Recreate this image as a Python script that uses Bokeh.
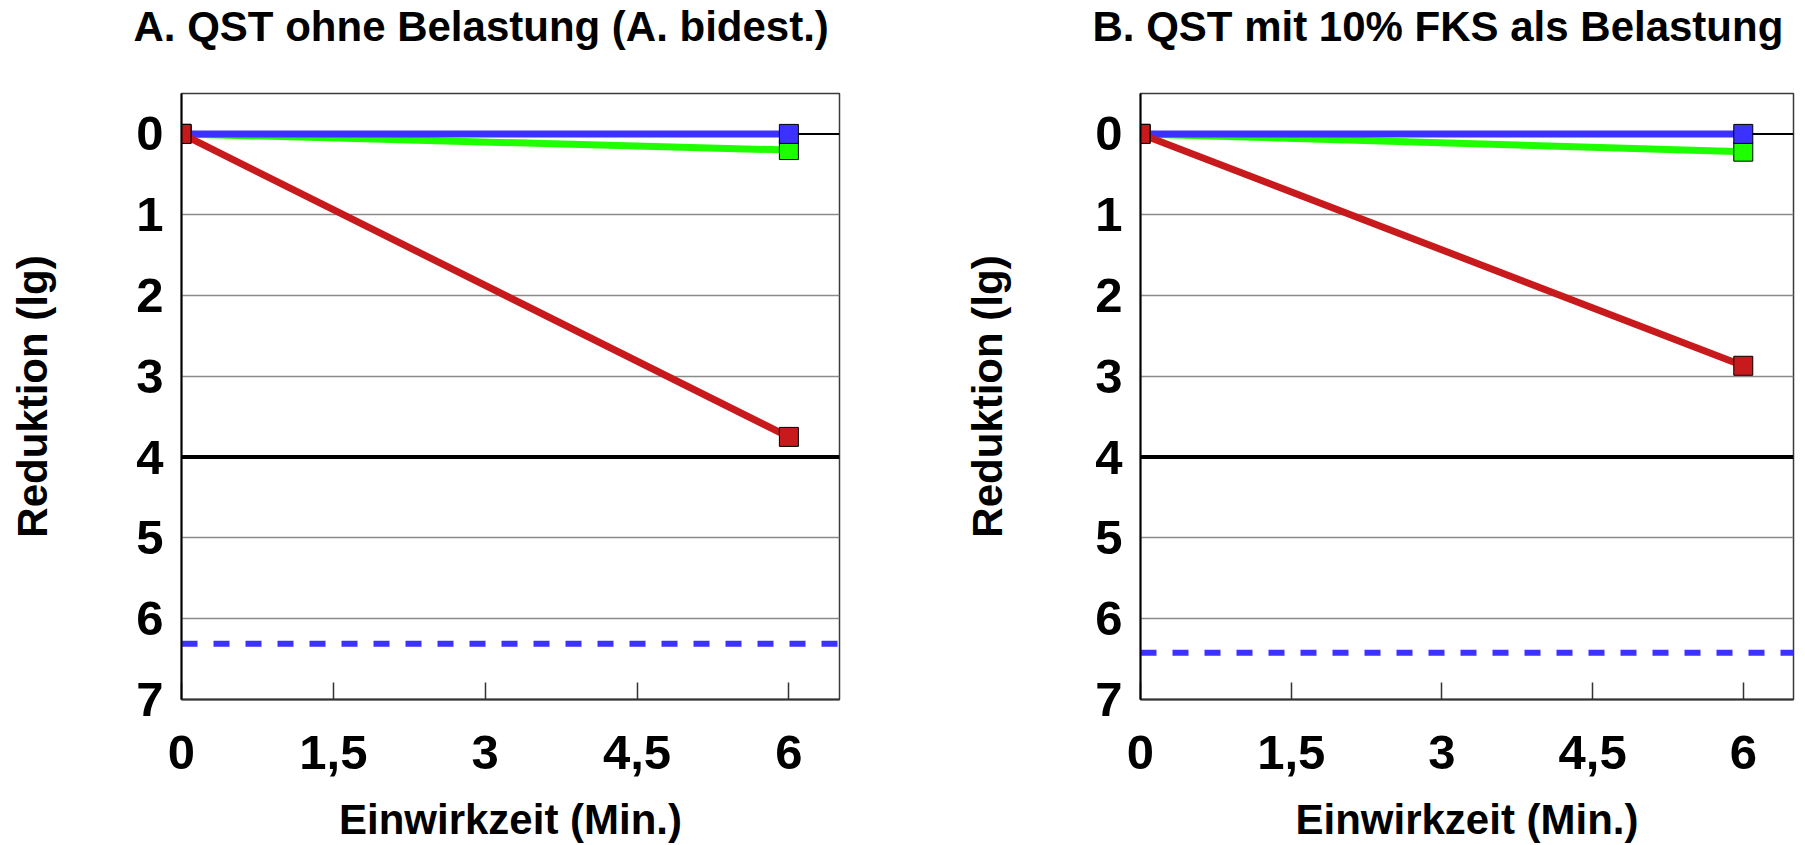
from bokeh.plotting import figure
from bokeh.models import Range1d, FixedTicker, Span, Title
from bokeh.layouts import row
from bokeh.embed import file_html
from bokeh.resources import INLINE

# ---------------- data ----------------
time_min = [0, 6]
titles = ["A. QST ohne Belastung (A. bidest.)", "B. QST mit 10% FKS als Belastung"]
blue_A = [0, 0]
green_A = [0, 0.2]
red_A = [0, 3.75]
blue_B = [0, 0]
green_B = [0, 0.22]
red_B = [0, 2.87]
limit_A = 6.31
limit_B = 6.42
threshold = 4
x_ticks = [0, 1.5, 3, 4.5, 6]
x_tick_labels = ["0", "1,5", "3", "4,5", "6"]
y_ticks = [0, 1, 2, 3, 4, 5, 6, 7]
y_tick_labels = ["0", "1", "2", "3", "4", "5", "6", "7"]
grid_ticks = [1, 2, 3, 5, 6]
x_label = "Einwirkzeit (Min.)"
y_label = "Reduktion (lg)"

BLUE = "#3c32ff"
GREEN = "#1eff00"
RED = "#c8191d"
FONT = "Liberation Sans"

H = 845
FRAME_TOP, FRAME_BOTTOM = 93, 700          # page pixels


def make_panel(title, blue, green, red, limit, width, ml, mr, label_standoff, title_dx):
    p = figure(width=width, height=H, x_range=Range1d(0, 6.5), y_range=Range1d(7, -0.5),
               output_backend="svg", toolbar_location=None,
               min_border_left=ml, min_border_right=mr,
               min_border_top=FRAME_TOP, min_border_bottom=H - FRAME_BOTTOM)
    p.background_fill_color = "white"
    p.border_fill_color = "white"
    p.outline_line_color = "#3a3a3a"
    p.outline_line_width = 1.5

    p.xgrid.visible = False
    p.ygrid.ticker = FixedTicker(ticks=grid_ticks)
    p.ygrid.grid_line_color = "#8a8a8a"
    p.ygrid.grid_line_width = 1.5

    # axes
    xa = p.xaxis[0]
    xa.ticker = FixedTicker(ticks=x_ticks)
    xa.major_label_overrides = dict(zip(x_ticks, x_tick_labels))
    xa.major_tick_in = 17
    xa.major_tick_out = 0
    xa.minor_tick_in = 0
    xa.minor_tick_out = 0
    xa.major_tick_line_color = "#333333"
    xa.major_tick_line_width = 1.5
    xa.axis_line_color = "#333333"
    xa.axis_line_width = 2
    xa.major_label_text_font = FONT
    xa.major_label_text_font_style = "bold"
    xa.major_label_text_font_size = "49px"
    xa.major_label_text_color = "black"
    xa.major_label_standoff = 36
    xa.axis_label = x_label
    xa.axis_label_text_font = FONT
    xa.axis_label_text_font_style = "bold"
    xa.axis_label_text_font_size = "42px"
    xa.axis_label_text_color = "black"
    xa.axis_label_standoff = 24

    ya = p.yaxis[0]
    ya.ticker = FixedTicker(ticks=y_ticks)
    ya.major_label_overrides = dict(zip(y_ticks, y_tick_labels))
    ya.major_tick_in = 0
    ya.major_tick_out = 0
    ya.minor_tick_in = 0
    ya.minor_tick_out = 0
    ya.axis_line_color = "black"
    ya.axis_line_width = 2
    ya.major_label_text_font = FONT
    ya.major_label_text_font_style = "bold"
    ya.major_label_text_font_size = "49px"
    ya.major_label_text_color = "black"
    ya.major_label_standoff = 18
    ya.axis_label = y_label
    ya.axis_label_text_font = FONT
    ya.axis_label_text_font_style = "bold"
    ya.axis_label_text_font_size = "42px"
    ya.axis_label_text_color = "black"
    ya.axis_label_standoff = label_standoff

    # reference lines
    p.add_layout(Span(location=0, dimension="width", line_color="black", line_width=2, level="underlay"))
    p.add_layout(Span(location=threshold, dimension="width", line_color="black", line_width=4, level="underlay"))
    p.add_layout(Span(location=limit, dimension="width", line_color=BLUE, line_width=6,
                      line_dash="16 16", level="underlay"))

    # series
    p.line(time_min, green, line_color=GREEN, line_width=7)
    p.line(time_min, blue, line_color=BLUE, line_width=7)
    p.line(time_min, red, line_color=RED, line_width=7)
    p.scatter(time_min, green, marker="square", size=19, fill_color=GREEN, line_color="black", line_width=1)
    p.scatter(time_min, blue, marker="square", size=19, fill_color=BLUE, line_color="black", line_width=1)
    p.scatter(time_min, red, marker="square", size=19, fill_color=RED, line_color="black", line_width=1)

    # title (outermost) + spacer between title and frame
    p.title = Title(text=title, align="left", offset=title_dx, text_font=FONT, text_font_style="bold",
                    text_font_size="42px", text_color="black", vertical_align="bottom", standoff=0)
    p.add_layout(Title(text=" ", text_font_size="1px", standoff=41), "above")
    return p


p1 = make_panel(titles[0], blue_A, green_A, red_A, limit_A, 900, 181, 61, 77, -48)
p2 = make_panel(titles[1], blue_B, green_B, red_B, limit_B, 905, 240, 12, 81, -48)

layout = row(p1, p2)
open("out.html", "w").write(file_html(layout, INLINE))
